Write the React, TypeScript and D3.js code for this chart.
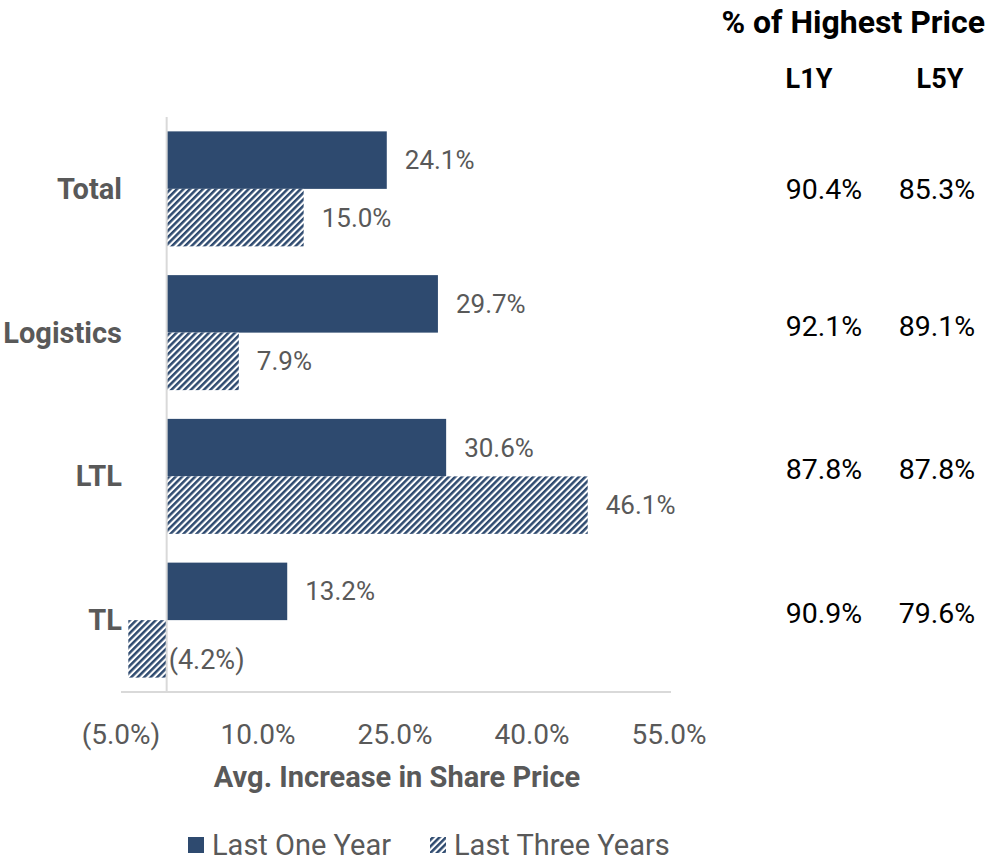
import React, { useEffect, useRef } from 'react';
import * as d3 from 'd3';

const categories = ['Total', 'Logistics', 'LTL', 'TL'];
const seriesNames = ['Last One Year', 'Last Three Years'];
const lastOneYear = [24.1, 29.7, 30.6, 13.2];
const lastThreeYears = [15.0, 7.9, 46.1, -4.2];
const axisTicks = [-5, 10, 25, 40, 55];
const tableHeaders = ['L1Y', 'L5Y'];
const highL1Y = ['90.4%', '92.1%', '87.8%', '90.9%'];
const highL5Y = ['85.3%', '89.1%', '87.8%', '79.6%'];

const NAVY = '#2e4a6f';
const GRAY = '#595959';
const FONT = 'Roboto, sans-serif';

const fmt = (v: number) => (v < 0 ? `(${Math.abs(v).toFixed(1)}%)` : `${v.toFixed(1)}%`);

const App = () => {
  const svgRef = useRef<SVGSVGElement>(null);

  useEffect(() => {
    const svg = d3.select(svgRef.current);
    svg.selectAll('*').remove();

    const defs = svg.append('defs');
    defs.append('pattern')
      .attr('id', 'hatch')
      .attr('patternUnits', 'userSpaceOnUse')
      .attr('width', 4.6)
      .attr('height', 4.6)
      .attr('patternTransform', 'rotate(45)')
      .call(p => p.append('rect').attr('width', 4.6).attr('height', 4.6).attr('fill', '#fff'))
      .append('rect')
      .attr('width', 2.5)
      .attr('height', 4.6)
      .attr('fill', NAVY);

    const x = d3.scaleLinear().domain([-5, 55]).range([121, 669]);
    const y = d3.scaleBand().domain(categories).range([117, 692]).paddingInner(0.2).paddingOuter(0.1);
    const sub = d3.scaleBand().domain(seriesNames).range([0, y.bandwidth()]);

    const rows = categories.map((c, i) => ({ c, vals: [lastOneYear[i], lastThreeYears[i]] }));

    // bottom axis line
    svg.append('line')
      .attr('x1', x(-5)).attr('x2', x(55) + 2)
      .attr('y1', 692).attr('y2', 692)
      .attr('stroke', '#d9d9d9').attr('stroke-width', 2);

    const g = svg.append('g');
    rows.forEach(r => {
      r.vals.forEach((v, j) => {
        const by = (y(r.c) as number) + (sub(seriesNames[j]) as number);
        g.append('rect')
          .attr('x', x(Math.min(0, v)))
          .attr('y', by)
          .attr('width', Math.abs(x(v) - x(0)))
          .attr('height', sub.bandwidth())
          .attr('fill', j === 0 ? NAVY : 'url(#hatch)');
        g.append('text')
          .attr('x', v < 0 ? x(0) + 2 : x(v) + 18)
          .attr('y', by + sub.bandwidth() / 2 + (v < 0 ? 20 : 9))
          .attr('fill', GRAY)
          .attr('font-size', v < 0 ? 27 : 26)
          .attr('font-family', FONT)
          .text(fmt(v));
      });
      svg.append('text')
        .attr('x', 122)
        .attr('y', (y(r.c) as number) + y.bandwidth() / 2 + 10)
        .attr('text-anchor', 'end')
        .attr('fill', GRAY)
        .attr('font-size', 29)
        .attr('font-weight', 'bold')
        .attr('font-family', FONT)
        .text(r.c);
    });

    svg.append('line')
      .attr('x1', x(0)).attr('x2', x(0))
      .attr('y1', 117).attr('y2', 692)
      .attr('stroke', '#d9d9d9').attr('stroke-width', 2);

    axisTicks.forEach(t => {
      svg.append('text')
        .attr('x', x(t))
        .attr('y', 744)
        .attr('text-anchor', 'middle')
        .attr('fill', GRAY)
        .attr('font-size', 28)
        .attr('font-family', FONT)
        .text(fmt(t));
    });

    svg.append('text')
      .attr('x', 397)
      .attr('y', 787)
      .attr('text-anchor', 'middle')
      .attr('fill', GRAY)
      .attr('font-size', 29)
      .attr('font-weight', 'bold')
      .attr('font-family', FONT)
      .text('Avg. Increase in Share Price');

    // legend
    const legX = [188, 430];
    seriesNames.forEach((s, i) => {
      svg.append('rect')
        .attr('x', legX[i]).attr('y', 837)
        .attr('width', 16).attr('height', 16)
        .attr('fill', i === 0 ? NAVY : 'url(#hatch)');
      svg.append('text')
        .attr('x', legX[i] + 24)
        .attr('y', 855)
        .attr('fill', GRAY)
        .attr('font-size', 29)
        .attr('font-family', FONT)
        .text(s);
    });

    // table: % of highest price
    svg.append('text')
      .attr('x', 985).attr('y', 33)
      .attr('text-anchor', 'end')
      .attr('font-size', 32)
      .attr('font-weight', 'bold')
      .attr('font-family', FONT)
      .attr('fill', '#000')
      .text('% of Highest Price');
    const colX = [809, 940];
    tableHeaders.forEach((h, i) => {
      svg.append('text')
        .attr('x', colX[i]).attr('y', 88)
        .attr('text-anchor', 'middle')
        .attr('font-size', 27)
        .attr('font-weight', 'bold')
        .attr('font-family', FONT)
        .attr('fill', '#000')
        .text(h);
    });
    categories.forEach((c, i) => {
      const cy = (y(c) as number) + y.bandwidth() / 2 + (i === 0 ? 10 : 3);
      svg.append('text')
        .attr('x', 824).attr('y', cy)
        .attr('text-anchor', 'middle')
        .attr('font-size', 28.5)
        .attr('font-family', FONT)
        .attr('fill', '#000')
        .text(highL1Y[i]);
      svg.append('text')
        .attr('x', 937).attr('y', cy)
        .attr('text-anchor', 'middle')
        .attr('font-size', 28.5)
        .attr('font-family', FONT)
        .attr('fill', '#000')
        .text(highL5Y[i]);
    });
  }, []);

  return (
    <svg ref={svgRef} width={987} height={861} style={{ position: 'absolute', left: 0, top: 0 }}></svg>
  );
};

export default App;
